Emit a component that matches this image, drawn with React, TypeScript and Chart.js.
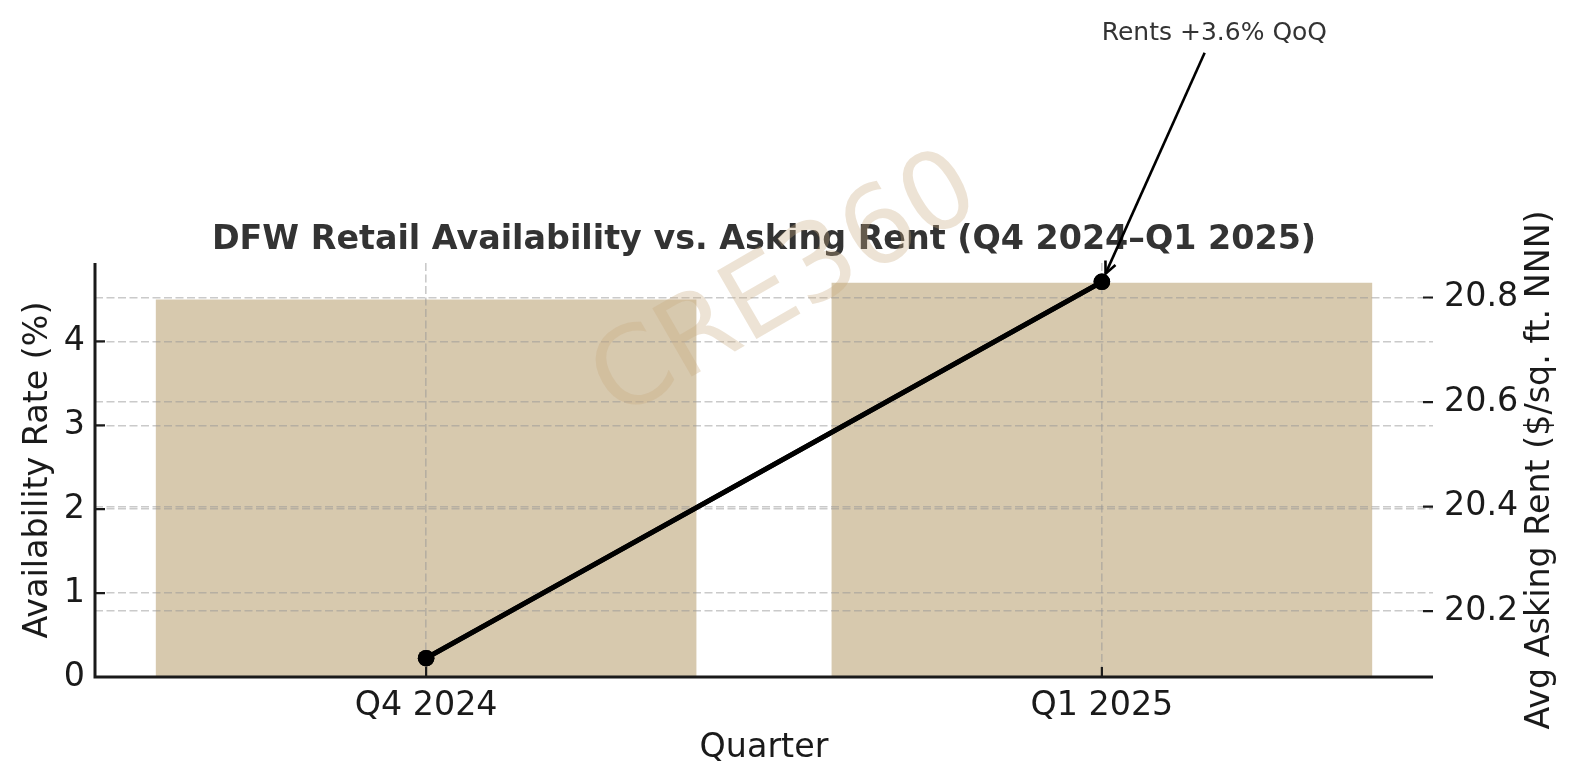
import { useEffect, useRef } from 'react';
import { Chart, registerables } from 'chart.js';

Chart.register(...registerables);

// ---- data ----
const quarters = ['Q4 2024', 'Q1 2025'];
const availabilityRate = [4.5, 4.7];
const askingRent = [20.11, 20.83];
const leftTicks = [0, 1, 2, 3, 4];
const rightTicks = [20.2, 20.4, 20.6, 20.8];
const titleText = 'DFW Retail Availability vs. Asking Rent (Q4 2024\u2013Q1 2025)';
const leftAxisTitle = 'Availability Rate (%)';
const rightAxisTitle = 'Avg Asking Rent ($/sq. ft. NNN)';
const xAxisTitle = 'Quarter';
const annotationText = 'Rents +3.6% QoQ';
const watermarkText = 'CRE360';

// ---- style ----
const W = 1580;
const H = 783;
const FONT = 'DejaVu Sans';
const FS = 33.33;
const AXIS_COLOR = '#1a1a1a';
const TITLE_COLOR = '#333333';
const BAR_COLOR = '#d7c9ae';
const GRID_COLOR = 'rgba(150,150,150,0.5)';
const GRID_DASH = [8, 3.5];
const TICK_LEN = 10;

// matplotlib-like auto margins (5%)
const leftMax = Math.max(...availabilityRate) * 1.05;
const rentRange = Math.max(...askingRent) - Math.min(...askingRent);
const rightMin = Math.min(...askingRent) - rentRange * 0.05;
const rightMax = Math.max(...askingRent) + rentRange * 0.05;
const xMin = -0.4 - 0.09;
const xMax = quarters.length - 1 + 0.4 + 0.09;

const decorPlugin = {
  id: 'decor',
  afterDraw(chart: any) {
    const { ctx, chartArea, scales } = chart;
    // line above grid (matplotlib zorder)
    const meta = chart.getDatasetMeta(1);
    if (meta && meta.controller) meta.controller.draw();

    ctx.save();
    // spines (left + bottom)
    ctx.strokeStyle = AXIS_COLOR;
    ctx.setLineDash([]);
    ctx.lineWidth = 3;
    ctx.beginPath();
    ctx.moveTo(chartArea.left, chartArea.top);
    ctx.lineTo(chartArea.left, chartArea.bottom);
    ctx.lineTo(chartArea.right, chartArea.bottom);
    ctx.stroke();

    // inward tick marks
    ctx.lineWidth = 2.2;
    ctx.beginPath();
    leftTicks.forEach((v) => {
      const y = scales.y.getPixelForValue(v);
      ctx.moveTo(chartArea.left, y);
      ctx.lineTo(chartArea.left + TICK_LEN, y);
    });
    rightTicks.forEach((v) => {
      const y = scales.y1.getPixelForValue(v);
      ctx.moveTo(chartArea.right, y);
      ctx.lineTo(chartArea.right - TICK_LEN, y);
    });
    quarters.forEach((_, i) => {
      const x = scales.x.getPixelForValue(i);
      ctx.moveTo(x, chartArea.bottom);
      ctx.lineTo(x, chartArea.bottom - TICK_LEN);
    });
    ctx.stroke();

    // title
    ctx.fillStyle = TITLE_COLOR;
    ctx.font = `bold ${FS}px "${FONT}"`;
    ctx.textAlign = 'center';
    ctx.textBaseline = 'alphabetic';
    ctx.fillText(titleText, (chartArea.left + chartArea.right) / 2, chartArea.top - 14);

    // right axis title (reads bottom-to-top)
    ctx.save();
    ctx.translate(W - 40, (chartArea.top + chartArea.bottom) / 2);
    ctx.rotate(-Math.PI / 2);
    ctx.fillStyle = AXIS_COLOR;
    ctx.font = `${FS}px "${FONT}"`;
    ctx.textAlign = 'center';
    ctx.textBaseline = 'middle';
    ctx.fillText(rightAxisTitle, 0, 0);
    ctx.restore();

    // annotation
    const px = scales.x.getPixelForValue(quarters.length - 1);
    const py = scales.y1.getPixelForValue(askingRent[askingRent.length - 1]);
    const tx = px + 112.5;
    const ty = 31;
    ctx.fillStyle = TITLE_COLOR;
    ctx.font = `25px "${FONT}"`;
    ctx.textAlign = 'center';
    ctx.textBaseline = 'alphabetic';
    ctx.fillText(annotationText, tx, 39.5);
    const dx = px - tx;
    const dy = py - ty;
    const len = Math.hypot(dx, dy);
    const ux = dx / len;
    const uy = dy / len;
    const startT = (52.7 - ty) / uy;
    const sx = tx + ux * startT;
    const sy = ty + uy * startT;
    const ex = px - ux * 9;
    const ey = py - uy * 9;
    ctx.strokeStyle = '#000';
    ctx.lineWidth = 2.6;
    ctx.lineCap = 'butt';
    ctx.beginPath();
    ctx.moveTo(sx, sy);
    ctx.lineTo(ex, ey);
    ctx.stroke();
    const hl = 12;
    const hw = 5.5;
    const bx = ex - ux * hl;
    const by = ey - uy * hl;
    ctx.beginPath();
    ctx.moveTo(bx - uy * hw, by + ux * hw);
    ctx.lineTo(ex, ey);
    ctx.lineTo(bx + uy * hw, by - ux * hw);
    ctx.stroke();

    // watermark
    ctx.save();
    ctx.translate(787, 289);
    ctx.rotate(-Math.PI / 6);
    ctx.fillStyle = 'rgba(200,170,128,0.33)';
    ctx.font = `108px "${FONT}"`;
    ctx.textAlign = 'center';
    ctx.textBaseline = 'middle';
    ctx.fillText(watermarkText, 0, 0);
    ctx.restore();

    ctx.restore();
  },
};

export default function App() {
  const canvasRef = useRef<HTMLCanvasElement | null>(null);

  useEffect(() => {
    document.body.style.margin = '0';
    const canvas = canvasRef.current;
    if (!canvas) return;
    Chart.defaults.font.family = FONT;

    const tickFont = { family: FONT, size: FS };

    const chart = new Chart(canvas, {
      type: 'bar',
      data: {
        datasets: [
          {
            type: 'bar',
            label: 'Availability Rate (%)',
            data: quarters.map((_, i) => ({ x: i, y: availabilityRate[i] })),
            backgroundColor: BAR_COLOR,
            borderWidth: 0,
            barPercentage: 0.8,
            categoryPercentage: 1,
            yAxisID: 'y',
            order: 2,
          } as any,
          {
            type: 'line',
            label: 'Avg Asking Rent',
            data: quarters.map((_, i) => ({ x: i, y: askingRent[i] })),
            borderColor: '#000',
            backgroundColor: '#000',
            borderWidth: 5,
            pointRadius: 8.3,
            pointBackgroundColor: '#000',
            pointBorderColor: '#000',
            pointBorderWidth: 0,
            tension: 0,
            yAxisID: 'y1',
            order: 1,
          } as any,
        ],
      },
      options: {
        responsive: false,
        animation: false,
        devicePixelRatio: 1,
        layout: { padding: { top: 263, left: 0, right: 0, bottom: 0 } },
        plugins: {
          legend: { display: false },
          title: { display: false },
          tooltip: { enabled: false },
        },
        scales: {
          x: {
            type: 'linear',
            offset: false,
            min: xMin,
            max: xMax,
            afterBuildTicks: (s: any) => {
              s.ticks = quarters.map((_, i) => ({ value: i }));
            },
            afterFit: (s: any) => {
              s.height = 106;
            },
            ticks: {
              callback: (v: any) => quarters[v] ?? '',
              font: tickFont,
              color: AXIS_COLOR,
              padding: 9,
              maxRotation: 0,
              autoSkip: false,
            },
            grid: { color: GRID_COLOR, lineWidth: 1.6, drawTicks: false, offset: false, z: 1 },
            border: { display: false, dash: GRID_DASH },
            title: {
              display: true,
              text: xAxisTitle,
              font: { family: FONT, size: FS },
              color: AXIS_COLOR,
              padding: { top: 0, bottom: 15 },
            },
          },
          y: {
            type: 'linear',
            position: 'left',
            min: 0,
            max: leftMax,
            afterBuildTicks: (s: any) => {
              s.ticks = leftTicks.map((v) => ({ value: v }));
            },
            afterFit: (s: any) => {
              s.width = 95;
            },
            ticks: {
              font: tickFont,
              color: AXIS_COLOR,
              padding: 10,
              callback: (v: any) => String(v),
            },
            grid: { color: GRID_COLOR, lineWidth: 1.6, drawTicks: false, z: 1 },
            border: { display: false, dash: GRID_DASH },
            title: {
              display: true,
              text: leftAxisTitle,
              font: { family: FONT, size: FS },
              color: AXIS_COLOR,
              padding: { top: 18, bottom: 0 },
            },
          },
          y1: {
            type: 'linear',
            position: 'right',
            min: rightMin,
            max: rightMax,
            afterBuildTicks: (s: any) => {
              s.ticks = rightTicks.map((v) => ({ value: v }));
            },
            afterFit: (s: any) => {
              s.width = 147;
            },
            ticks: {
              font: tickFont,
              color: AXIS_COLOR,
              padding: 11,
              callback: (v: any) => Number(v).toFixed(1),
            },
            grid: { color: GRID_COLOR, lineWidth: 1.6, drawTicks: false, z: 1 },
            border: { display: false, dash: GRID_DASH },
          },
        },
      },
      plugins: [decorPlugin],
    } as any);

    return () => chart.destroy();
  }, []);

  return (
    <div style={{ width: W, height: H, background: '#fff' }}>
      <canvas ref={canvasRef} width={W} height={H} />
    </div>
  );
}
